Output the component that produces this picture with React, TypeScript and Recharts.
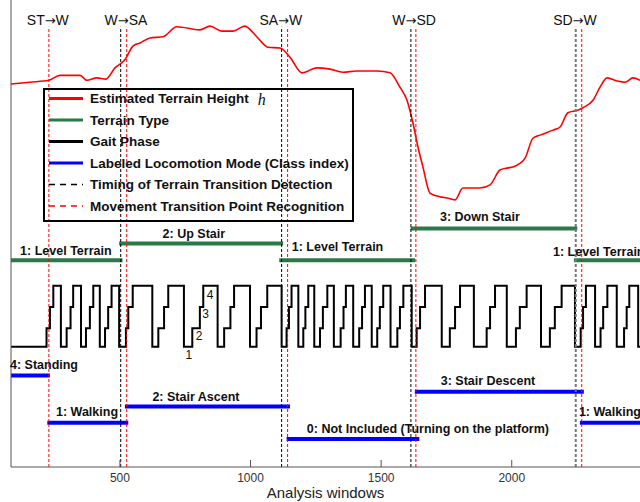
import React from 'react';
import { ComposedChart, Line, XAxis, YAxis, ReferenceLine, ReferenceDot, Legend } from 'recharts';

// Estimated terrain height (red curve)
const terrainX = [83,155,228,270,347,374,412,446,481,519,550,577,615,665,718,806,845,890,933,978,1024,1067,1113,1151,1197,1254,1304,1354,1407,1484,1534,1572,1599,1622,1641,1660,1687,1725,1752,1783,1813,1878,1917,1955,1982,2012,2051,2081,2108,2158,2185,2215,2253,2273,2311,2338,2365,2403,2434,2464,2491];
const terrainH = [6.15,6.18,6.21,6.29,6.29,6.21,6.25,6.23,6.41,6.54,6.76,6.81,6.89,6.91,7.07,7.02,7.08,7.0,7.0,7.08,6.91,6.74,6.73,6.58,6.33,6.41,6.39,6.34,6.36,6.36,6.33,6.1,5.89,5.52,5.14,4.82,4.4,4.34,4.32,4.29,4.48,4.48,4.53,4.77,4.8,4.83,4.96,5.28,5.33,5.41,5.46,5.69,5.73,5.77,5.89,6.1,6.25,6.2,6.18,6.25,6.21];

// Terrain type segments (green)
const terrainTypeStart = [83, 497, 1110, 1613, 2238];
const terrainTypeEnd = [510, 1125, 1630, 2251, 2491];
const terrainTypeLevel = [3.32, 3.59, 3.32, 3.83, 3.32];

// Gait phase cycles (window index at each phase change)
const gaitPhase2 = [219,296,370,443,523,647,777,899,1023,1138,1202,1266,1345,1416,1485,1562,1636,1763,1904,2016,2146,2264,2340,2430];
const gaitPhase3 = [232,311,385,455,532,669,806,923,1040,1147,1210,1277,1356,1427,1495,1572,1649,1783,1917,2031,2165,2273,2350,2440];
const gaitPhase4 = [245,321,398,468,549,685,819,937,1064,1157,1221,1294,1365,1438,1508,1585,1668,1802,1936,2057,2191,2284,2366,2450];
const gaitPhase1 = [274,351,423,497,624,745,874,998,1119,1183,1244,1319,1393,1464,1536,1617,1732,1855,1981,2112,2242,2319,2402,2484];
const gaitLevel = [0, 1.93, 2.23, 2.57, 2.91];

// Labeled locomotion mode segments (blue)
const modeStart = [83, 222, 519, 1138, 1629, 2261];
const modeEnd = [232, 532, 1151, 1646, 2276, 2491];
const modeLevel = [1.47, 0.71, 0.97, 0.45, 1.21, 0.71];

// Transition markers
const terrainDetectX = [503, 1119, 1614, 2245];
const movementX = [228, 526, 1142, 1633, 2268];
const transitionFrom = ['ST', 'W', 'SA', 'W', 'SD'];
const transitionTo = ['W', 'SA', 'W', 'SD', 'W'];
const transitionLabelX = [224, 523, 1116, 1626, 2242];

// Annotation texts
const annText = ['1: Level Terrain', '2: Up Stair', '1: Level Terrain', '3: Down Stair', '1: Level Terrain', '4: Standing', '1: Walking', '2: Stair Ascent', '0: Not Included (Turning on the platform)', '3: Stair Descent', '1: Walking'];
const annX = [293, 783, 1333, 1878, 2158, 79, 374, 791, 1679, 1909, 2257];
const annY = [3.47, 3.74, 3.53, 4.01, 3.46, 1.64, 0.89, 1.12, 0.61, 1.38, 0.89];
const annAnchor = ['middle', 'middle', 'middle', 'middle', 'start', 'start', 'middle', 'middle', 'middle', 'middle', 'start'];

const phaseText = ['4', '3', '2', '1'];
const phaseX = [845, 828, 803, 764];
const phaseY = [2.76, 2.46, 2.1, 1.8];

const xTicks = [500, 1000, 1500, 2000];
const yTicks = [1, 2, 3, 4, 5, 6, 7];

const legendLabels = ['Estimated Terrain Height', 'Terrain Type', 'Gait Phase', 'Labeled Locomotion Mode (Class index)', 'Timing of Terrain Transition Detection', 'Movement Transition Point Recognition'];
const legendColors = ['#ff0000', '#2a7a48', '#000000', '#0000ff', '#000000', '#ff0000'];
const legendDash = ['', '', '', '', '6 5', '6 5'];

const FONT = '"Liberation Sans", Arial, sans-serif';

const terrainData = terrainX.map((x, i) => ({ x, y: terrainH[i] }));
const gaitData = (() => {
  const pts: { x: number; y: number }[] = [{ x: 83, y: gaitLevel[1] }];
  gaitPhase2.forEach((_, i) => {
    pts.push({ x: gaitPhase2[i], y: gaitLevel[2] });
    pts.push({ x: gaitPhase3[i], y: gaitLevel[3] });
    pts.push({ x: gaitPhase4[i], y: gaitLevel[4] });
    pts.push({ x: gaitPhase1[i], y: gaitLevel[1] });
  });
  pts.push({ x: 2491, y: gaitLevel[1] });
  return pts;
})();

const renderLegend = () => (
  <svg width={311} height={134} style={{ display: 'block' }}>
    <rect x={1} y={1} width={309} height={132} fill="none" stroke="#000" strokeWidth={2} />
    {legendLabels.map((label, i) => {
      const cy = 10.5 + i * 21.5;
      return (
        <g key={i}>
          <line x1={6} x2={40} y1={cy} y2={cy} stroke={legendColors[i]} strokeWidth={legendDash[i] ? 1.5 : 3} strokeDasharray={legendDash[i] || undefined} />
          <text x={47} y={cy} dominantBaseline="central" fontFamily={FONT} fontWeight="bold" fontSize={13.5} fill="#111">
            {label}
            {i === 0 && (
              <tspan dx={9} fontFamily='"Liberation Serif", "DejaVu Serif", serif' fontStyle="italic" fontWeight="normal" fontSize={16}>h</tspan>
            )}
          </text>
        </g>
      );
    })}
  </svg>
);

const textShape = (txt: string, anchor: string, size: number, bold: boolean) => (p: any) => (
  <text x={p.cx} y={p.cy} textAnchor={anchor} dominantBaseline="central" fontFamily={FONT} fontWeight={bold ? 'bold' : 'normal'} fontSize={size} fill="#111">
    {txt}
  </text>
);

const arrowShape = (from: string, to: string) => (p: any) => (
  <text x={p.cx} y={p.cy} textAnchor="middle" dominantBaseline="central" fontFamily={FONT} fontSize={14} fill="#111">
    {from}
    <tspan fontFamily='"DejaVu Sans", sans-serif' fontSize={13}>{'\u2192'}</tspan>
    {to}
  </text>
);

export default function App() {
  return (
    <div style={{ position: 'absolute', left: 0, top: 0 }}>
      <ComposedChart width={640} height={502} margin={{ top: 0, right: 0, bottom: 0, left: 0 }}>
        <XAxis
          type="number"
          dataKey="x"
          domain={[83, 2491]}
          ticks={xTicks}
          allowDataOverflow
          height={35}
          tickSize={-7}
          tickMargin={13}
          stroke="#555"
          tick={{ fill: '#333', fontSize: 12, fontFamily: FONT }}
          label={{ value: 'Analysis windows', position: 'insideBottom', offset: 4, fontSize: 15, fill: '#222', fontFamily: FONT }}
        />
        <YAxis type="number" domain={[0, 7.5]} ticks={yTicks} allowDataOverflow width={11} tickSize={-6} tick={false} stroke="#555" />
        <Legend layout="vertical" align="center" verticalAlign="middle" content={renderLegend} wrapperStyle={{ position: 'absolute', left: 43, top: 88, width: 311, height: 134 }} />

        <Line data={terrainData} dataKey="y" type="monotone" stroke="#ff0000" strokeWidth={1.6} dot={false} isAnimationActive={false} legendType="none" />

        {terrainTypeStart.map((s, i) => (
          <Line key={'t' + i} data={[{ x: s, y: terrainTypeLevel[i] }, { x: terrainTypeEnd[i], y: terrainTypeLevel[i] }]} dataKey="y" type="linear" stroke="#2a7a48" strokeWidth={4} dot={false} isAnimationActive={false} legendType="none" />
        ))}

        <Line data={gaitData} dataKey="y" type="stepAfter" stroke="#000" strokeWidth={2} dot={false} isAnimationActive={false} legendType="none" />

        {modeStart.map((s, i) => (
          <Line key={'m' + i} data={[{ x: s, y: modeLevel[i] }, { x: modeEnd[i], y: modeLevel[i] }]} dataKey="y" type="linear" stroke="#0000ff" strokeWidth={4} dot={false} isAnimationActive={false} legendType="none" />
        ))}

        {terrainDetectX.map((x, i) => (
          <ReferenceLine key={'d' + i} segment={[{ x, y: 0 }, { x, y: 7.07 }]} stroke={i === 3 ? '#777' : '#000'} strokeWidth={i === 3 ? 2 : 1} strokeDasharray="3 2" />
        ))}
        {movementX.map((x, i) => (
          <ReferenceLine key={'r' + i} segment={[{ x, y: 0 }, { x, y: 7.07 }]} stroke="#ff0000" strokeWidth={1} strokeDasharray="3 2" />
        ))}

        {transitionFrom.map((t, i) => (
          <ReferenceDot key={'tl' + i} x={transitionLabelX[i]} y={7.18} r={0} ifOverflow="visible" shape={arrowShape(t, transitionTo[i])} />
        ))}
        {annText.map((t, i) => (
          <ReferenceDot key={'a' + i} x={annX[i]} y={annY[i]} r={0} ifOverflow="visible" shape={textShape(t, annAnchor[i], 12.5, true)} />
        ))}
        {phaseText.map((t, i) => (
          <ReferenceDot key={'p' + i} x={phaseX[i]} y={phaseY[i]} r={0} ifOverflow="visible" shape={textShape(t, 'middle', 12, false)} />
        ))}
      </ComposedChart>
    </div>
  );
}
